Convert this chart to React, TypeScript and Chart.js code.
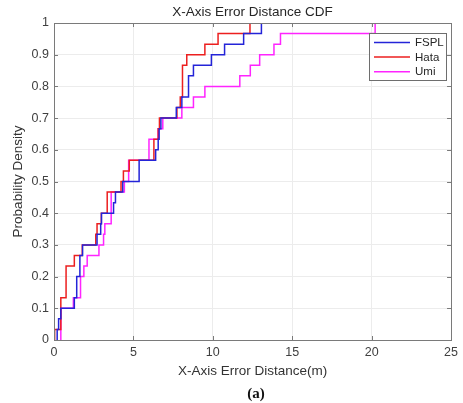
import React, { useEffect, useRef } from 'react';
import { Chart, registerables } from 'chart.js';

Chart.register(...registerables);

const chartTitle = 'X-Axis Error Distance CDF';
const xAxisTitle = 'X-Axis Error Distance(m)';
const yAxisTitle = 'Probability Density';
const captionText = '(a)';

const xTickValues = [0, 5, 10, 15, 20, 25];
const yTickValues = [0, 0.1, 0.2, 0.3, 0.4, 0.5, 0.6, 0.7, 0.8, 0.9, 1];

const seriesNames = ['FSPL', 'Hata', 'Umi'];
const seriesColors = ['#2424d8', '#ec1f1f', '#ff24ff'];

// sorted error distances (m), 30 samples each
const fsplErrors = [
  0.2, 0.29, 0.43, 1.28, 1.43, 1.43, 1.63, 1.63, 1.8, 2.71,
  2.94, 2.99, 3.75, 3.87, 4.33, 5.36, 5.36, 6.4, 6.56, 6.62,
  6.73, 7.7, 8.05, 8.47, 8.47, 8.78, 9.91, 10.74, 11.94, 13.06,
];
const hataErrors = [
  0.04, 0.43, 0.43, 0.43, 0.76, 0.76, 0.76, 1.28, 1.78, 2.63,
  2.71, 2.98, 3.35, 3.35, 4.22, 4.37, 4.74, 6.29, 6.29, 6.56,
  6.64, 7.74, 7.95, 8.09, 8.09, 8.09, 8.36, 9.5, 10.33, 12.34,
];
const umiErrors = [
  0.43, 0.43, 0.43, 1.22, 1.67, 1.67, 1.88, 2.09, 2.83, 3.12,
  3.2, 3.6, 3.6, 3.6, 4.43, 4.7, 4.7, 5.98, 5.98, 6.56,
  6.85, 8.05, 8.78, 9.5, 11.7, 12.36, 12.95, 13.85, 14.26, 20.22,
];

const seriesValues = [fsplErrors, hataErrors, umiErrors];

function cdfPoints(values: number[]) {
  const n = values.length;
  const pts = [{ x: values[0], y: 0 }];
  values.forEach((v, i) => pts.push({ x: v, y: (i + 1) / n }));
  return pts;
}

const FONT = '"Liberation Sans", Arial, Helvetica, sans-serif';

const decorPlugin = {
  id: 'matlabDecor',
  afterDatasetsDraw(chart: any) {
    const { ctx, chartArea, scales } = chart;
    const { left, right, top, bottom } = chartArea;
    const xs = scales.x;
    const ys = scales.y;
    ctx.save();
    // box
    ctx.strokeStyle = '#7a7a7a';
    ctx.lineWidth = 1;
    ctx.strokeRect(Math.round(left) + 0.5, Math.round(top) + 0.5, Math.round(right - left), Math.round(bottom - top));
    // inward ticks
    const tl = 4;
    ctx.beginPath();
    xTickValues.forEach((v) => {
      const px = Math.round(xs.getPixelForValue(v)) + 0.5;
      ctx.moveTo(px, bottom);
      ctx.lineTo(px, bottom - tl);
      ctx.moveTo(px, top);
      ctx.lineTo(px, top + tl);
    });
    yTickValues.forEach((v) => {
      const py = Math.round(ys.getPixelForValue(v)) + 0.5;
      ctx.moveTo(left, py);
      ctx.lineTo(left + tl, py);
      ctx.moveTo(right, py);
      ctx.lineTo(right - tl, py);
    });
    ctx.stroke();

    // legend
    const lx = 369.5, ly = 33.5, lw = 77, lh = 47;
    ctx.fillStyle = '#ffffff';
    ctx.fillRect(lx, ly, lw, lh);
    ctx.strokeStyle = '#6e6e6e';
    ctx.strokeRect(lx, ly, lw, lh);
    ctx.font = `11.5px ${FONT}`;
    ctx.textBaseline = 'middle';
    ctx.textAlign = 'left';
    seriesNames.forEach((name, i) => {
      const yy = 42.5 + i * 14.6;
      ctx.strokeStyle = seriesColors[i];
      ctx.lineWidth = 1.5;
      ctx.beginPath();
      ctx.moveTo(374, yy);
      ctx.lineTo(410, yy);
      ctx.stroke();
      ctx.fillStyle = '#262626';
      ctx.fillText(name, 415, yy + 0.5);
    });

    // title
    ctx.fillStyle = '#262626';
    ctx.textAlign = 'center';
    ctx.font = `13.5px ${FONT}`;
    ctx.fillText(chartTitle, (left + right) / 2, 12.5);
    // x axis title
    ctx.fillStyle = '#333333';
    ctx.font = `13.5px ${FONT}`;
    ctx.fillText(xAxisTitle, (left + right) / 2, 371);
    // y axis title
    ctx.save();
    ctx.translate(18.5, (top + bottom) / 2);
    ctx.rotate(-Math.PI / 2);
    ctx.fillText(yAxisTitle, 0, 0);
    ctx.restore();
    // caption
    ctx.fillStyle = '#111111';
    ctx.font = `bold 15px "Liberation Serif", "Times New Roman", serif`;
    ctx.fillText(captionText, 256, 394);
    ctx.restore();
  },
};

export default function App() {
  const canvasRef = useRef<HTMLCanvasElement | null>(null);

  useEffect(() => {
    document.body.style.margin = '0';
    const canvas = canvasRef.current;
    if (!canvas) return;
    const chart = new Chart(canvas, {
      type: 'line',
      data: {
        datasets: seriesNames.map((name, i) => ({
          label: name,
          data: cdfPoints(seriesValues[i]),
          borderColor: seriesColors[i],
          backgroundColor: seriesColors[i],
          borderWidth: 1.5,
          pointRadius: 0,
          stepped: true,
          fill: false,
          tension: 0,
        })),
      },
      options: {
        responsive: false,
        animation: false,
        devicePixelRatio: 1,
        layout: { padding: { left: 0, right: 9, top: 23, bottom: 23 } },
        plugins: {
          legend: { display: false },
          tooltip: { enabled: false },
          title: { display: false },
        },
        scales: {
          x: {
            type: 'linear',
            min: 0,
            max: 25,
            afterFit: (s: any) => { s.height = 40; },
            afterBuildTicks: (s: any) => { s.ticks = xTickValues.map((v) => ({ value: v })); },
            grid: { color: '#ececec', drawTicks: false },
            border: { display: false },
            ticks: {
              padding: 5,
              color: '#404040',
              font: { family: FONT, size: 12.5 },
              callback: (v: any) => String(v),
            },
          },
          y: {
            type: 'linear',
            min: 0,
            max: 1,
            afterFit: (s: any) => { s.width = 54; },
            afterBuildTicks: (s: any) => { s.ticks = yTickValues.map((v) => ({ value: v })); },
            grid: { color: '#ececec', drawTicks: false },
            border: { display: false },
            ticks: {
              padding: 5,
              color: '#404040',
              font: { family: FONT, size: 12.5 },
              callback: (v: any) => (v === 0 || v === 1 ? String(v) : Number(v).toFixed(1)),
            },
          },
        },
      },
      plugins: [decorPlugin],
    });
    return () => chart.destroy();
  }, []);

  return (
    <div style={{ width: 463, height: 403, background: '#ffffff' }}>
      <canvas ref={canvasRef} width={463} height={403} style={{ display: 'block' }} />
    </div>
  );
}
